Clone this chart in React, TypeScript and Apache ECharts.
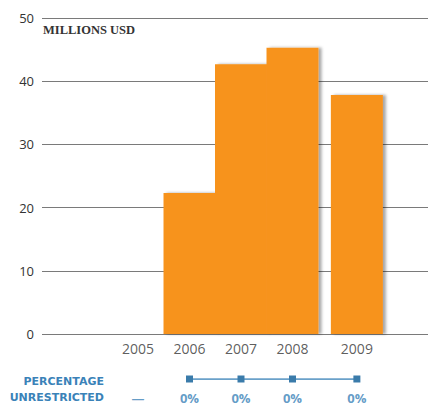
import React, { useEffect, useRef } from "react";
import * as echarts from "echarts";

const years = ["2005", "2006", "2007", "2008", "2009"];
const values: (number | null)[] = [null, 22.3, 42.7, 45.3, 37.8];
const pctUnrestricted: (number | null)[] = [null, 0, 0, 0, 0];
// slot position of each year on the horizontal axis (2009 sits a little apart)
const slots = [0, 1, 2, 3, 4.25];
const yTicks = { min: 0, max: 50, interval: 10 };

const ORANGE = "#F7931E";
const BLUE = "#3A82B8";
const TEXT = "#333333";

export default function App() {
  const ref = useRef<HTMLDivElement>(null);
  useEffect(() => {
    if (!ref.current) return;
    const chart = echarts.init(ref.current, undefined, { renderer: "svg" });
    const xMin = -1.864;
    const xMax = 5.631;
    const barData = years
      .map((y, i) => (values[i] == null ? null : [slots[i], values[i]]))
      .filter((d) => d !== null);
    const labelData = years.map((y, i) => [slots[i], 0, y]);
    const pctLine = years
      .map((y, i) => (pctUnrestricted[i] == null ? null : [slots[i], 1]))
      .filter((d) => d !== null);
    const pctLabels = years.map((y, i) => [slots[i], 0, pctUnrestricted[i]]);

    chart.setOption({
      animation: false,
      grid: [
        { left: 42, right: 0, top: 18, height: 316 },
        { left: 42, right: 0, top: 379, height: 19 },
      ],
      xAxis: [
        { type: "value", gridIndex: 0, min: xMin, max: xMax, show: false },
        { type: "value", gridIndex: 1, min: xMin, max: xMax, show: false },
      ],
      yAxis: [
        {
          type: "value",
          gridIndex: 0,
          min: yTicks.min,
          max: yTicks.max,
          interval: yTicks.interval,
          axisLine: { show: false },
          axisTick: { show: false },
          axisLabel: {
            color: TEXT,
            fontFamily: "Open Sans",
            fontSize: 13,
            margin: 8,
          },
          splitLine: { lineStyle: { color: "#7a7a7a", width: 1 } },
        },
        { type: "value", gridIndex: 1, min: 0, max: 1, show: false },
      ],
      series: [
        {
          type: "bar",
          xAxisIndex: 0,
          yAxisIndex: 0,
          data: barData,
          barWidth: 52,
          itemStyle: {
            color: ORANGE,
            shadowColor: "rgba(0,0,0,0.35)",
            shadowBlur: 3,
            shadowOffsetX: 3,
            shadowOffsetY: 0,
          },
        },
        {
          type: "scatter",
          xAxisIndex: 0,
          yAxisIndex: 0,
          data: labelData,
          symbolSize: 0,
          silent: true,
          label: {
            show: true,
            position: "bottom",
            distance: 7,
            color: TEXT,
            fontFamily: "Open Sans",
            fontSize: 14,
            formatter: (p: any) => p.data[2],
          },
        },
        {
          type: "line",
          xAxisIndex: 1,
          yAxisIndex: 1,
          data: pctLine,
          symbol: "rect",
          symbolSize: 7,
          lineStyle: { color: BLUE, width: 1.5 },
          itemStyle: { color: "#3A7BAA" },
        },
        {
          type: "scatter",
          xAxisIndex: 1,
          yAxisIndex: 1,
          data: pctLabels,
          symbolSize: 0,
          silent: true,
          label: {
            show: true,
            position: "inside",
            color: BLUE,
            fontFamily: "Open Sans",
            fontWeight: "bold",
            fontSize: 13,
            formatter: (p: any) => (p.data[2] == null ? "—" : p.data[2] + "%"),
          },
        },
      ],
      graphic: [
        {
          type: "text",
          left: 43,
          top: 23,
          style: {
            text: "MILLIONS USD",
            fill: TEXT,
            font: "600 12.5px 'Liberation Serif'",
          },
        },
        {
          type: "text",
          right: 324,
          top: 376,
          style: {
            text: "PERCENTAGE",
            fill: BLUE,
            font: "bold 11px 'DejaVu Sans'",
            align: "right",
          },
        },
        {
          type: "text",
          right: 324,
          top: 392,
          style: {
            text: "UNRESTRICTED",
            fill: BLUE,
            font: "bold 11px 'DejaVu Sans'",
            align: "right",
          },
        },
      ],
    });
    return () => chart.dispose();
  }, []);
  return (
    <div
      ref={ref}
      style={{ position: "absolute", left: 0, top: 0, width: 428, height: 409 }}
    />
  );
}
